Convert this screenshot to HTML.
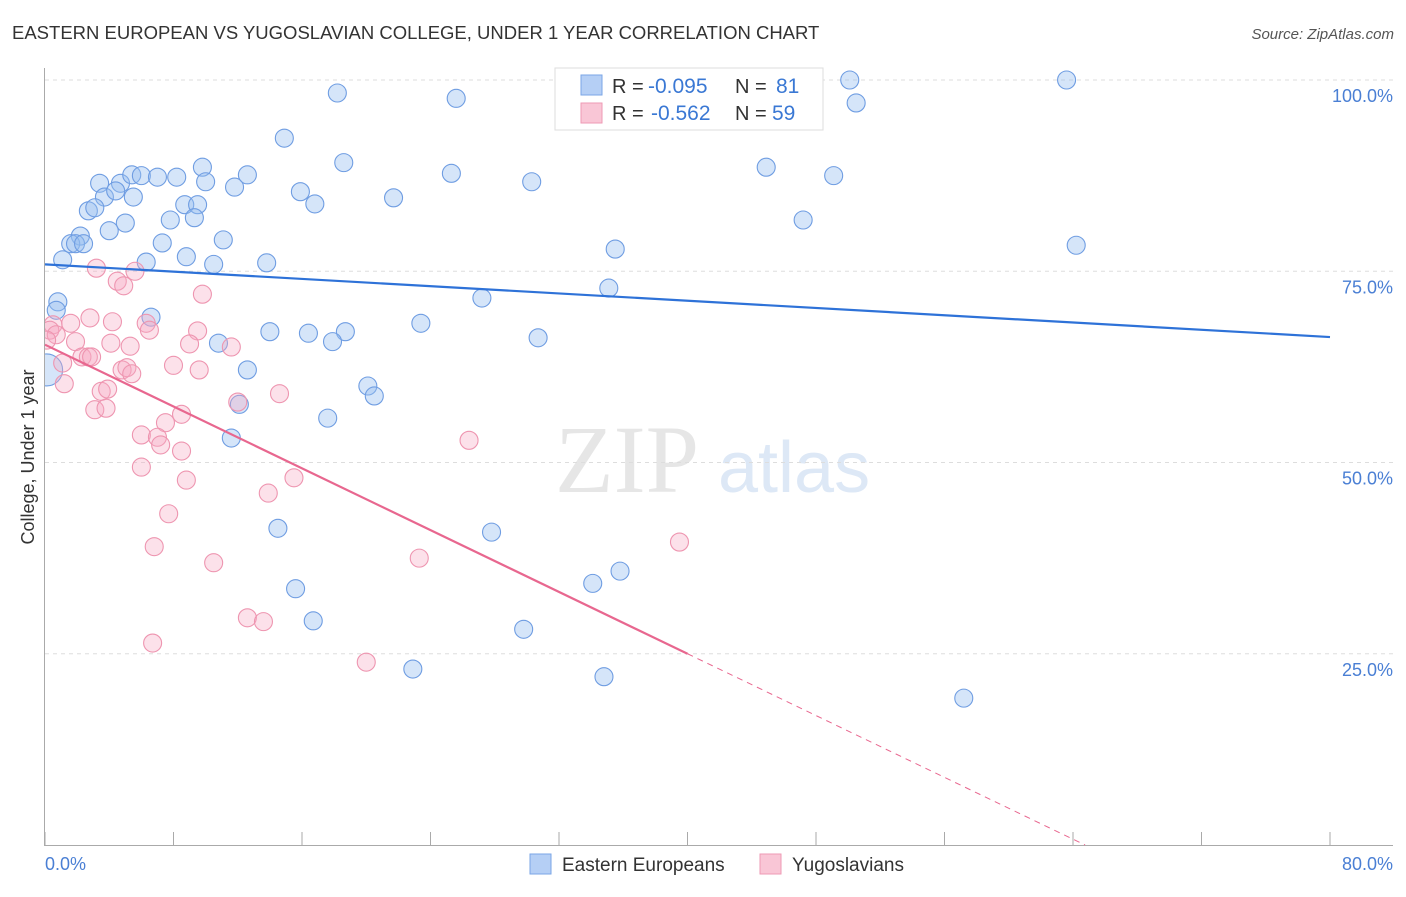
<!DOCTYPE html>
<html><head><meta charset="utf-8"><style>
body{margin:0;background:#fff;font-family:"Liberation Sans",sans-serif}
</style></head><body>
<svg id="c" width="1406" height="892" xmlns="http://www.w3.org/2000/svg">
<defs><clipPath id="plot"><rect x="45" y="60" width="1360" height="786"/></clipPath></defs>
<text x="12" y="39" font-size="18.5" fill="#333">EASTERN EUROPEAN VS YUGOSLAVIAN COLLEGE, UNDER 1 YEAR CORRELATION CHART</text>
<text x="1394" y="39" font-size="15" fill="#555" font-style="italic" text-anchor="end">Source: ZipAtlas.com</text>
<text x="555" y="492" font-size="96" fill="#e6e6e6" font-family="Liberation Serif">ZIP</text>
<text x="718" y="492" font-size="72" fill="#dde8f6">atlas</text>
<g id="grid"></g>
<g id="pts" clip-path="url(#plot)"></g>
<g id="lines"></g>
<text transform="translate(34,457) rotate(-90)" font-size="18" fill="#333" text-anchor="middle">College, Under 1 year</text>
<text x="45" y="870" font-size="18" fill="#4a7fd4">0.0%</text>
<text x="1393" y="870" font-size="18" fill="#4a7fd4" text-anchor="end">80.0%</text>
<g>
<rect x="555" y="68" width="268" height="62" fill="#fff" stroke="#ddd"/>
<rect x="581" y="75" width="21" height="20" fill="#b5cff5" stroke="#7aa5e6"/>
<rect x="581" y="103" width="21" height="20" fill="#f9c6d6" stroke="#ee9ab4"/>
<text x="612" y="93" font-size="20" fill="#333">R =</text>
<text x="648" y="93" font-size="21" fill="#3a78d4">-0.095</text>
<text x="735" y="93" font-size="20" fill="#333">N =</text>
<text x="776" y="93" font-size="21" fill="#3a78d4">81</text>
<text x="612" y="120" font-size="20" fill="#333">R =</text>
<text x="651" y="120" font-size="21" fill="#3a78d4">-0.562</text>
<text x="735" y="120" font-size="20" fill="#333">N =</text>
<text x="772" y="120" font-size="21" fill="#3a78d4">59</text>
</g>
<g>
<rect x="530" y="854" width="21" height="20" fill="#b5cff5" stroke="#7aa5e6"/>
<text x="562" y="871" font-size="19" fill="#333">Eastern Europeans</text>
<rect x="760" y="854" width="21" height="20" fill="#f9c6d6" stroke="#ee9ab4"/>
<text x="792" y="871" font-size="19" fill="#333">Yugoslavians</text>
</g>
</svg>
<script>
const blueX=[18.2,25.6,39.4,50.1,50.5,63.6,14.9,18.6,25.3,30.3,44.9,49.1,9.8,3.4,4.7,5.4,6.0,7.0,8.2,10.0,11.8,12.6,15.9,16.8,21.7,3.7,4.4,5.5,2.7,3.1,8.7,9.5,7.8,9.3,5.0,4.0,2.2,47.2,11.1,7.3,1.6,1.9,2.4,35.5,64.2,1.1,6.3,8.8,10.5,13.8,35.1,27.2,0.8,0.7,6.6,23.4,14.0,16.4,18.7,30.7,10.8,17.9,12.6,20.1,20.5,12.1,17.6,11.6,14.5,27.8,35.8,34.1,15.6,16.7,29.8,22.9,34.8,57.2,0.1];
const blueY=[98.3,97.6,100,100,97.0,100,92.4,89.2,87.8,86.7,88.6,87.5,88.6,86.5,86.5,87.6,87.5,87.3,87.3,86.7,86.0,87.6,85.4,83.8,84.6,84.7,85.5,84.7,82.9,83.3,83.7,83.7,81.7,82.0,81.3,80.3,79.6,81.7,79.1,78.7,78.6,78.6,78.6,77.9,78.4,76.5,76.2,76.9,75.9,76.1,72.8,71.5,71.0,69.9,69.0,68.2,67.1,66.9,67.1,66.3,65.6,65.8,62.1,60.0,58.7,57.6,55.8,53.2,41.4,40.9,35.8,34.2,33.5,29.3,28.2,23.0,22.0,19.2,62.1];
const pinkX=[3.2,5.6,4.5,4.9,9.8,0.5,1.6,2.8,4.2,6.3,6.5,9.5,0.3,0.7,1.9,4.1,5.3,9.0,11.6,1.1,2.3,2.7,2.9,8.0,9.6,4.8,5.1,5.4,1.2,3.5,3.9,12.0,14.6,3.1,3.8,8.5,7.5,6.0,7.0,7.2,8.5,26.4,6.0,8.8,15.5,13.9,7.7,6.8,10.5,23.3,39.5,12.6,13.6,6.7,20.0,0.1];
const pinkY=[75.4,75.0,73.7,73.1,72.0,68.0,68.2,68.9,68.4,68.2,67.3,67.2,67.3,66.7,65.8,65.6,65.2,65.5,65.1,63.0,63.8,63.8,63.8,62.7,62.1,62.1,62.4,61.6,60.3,59.3,59.6,57.9,59.0,56.9,57.1,56.3,55.2,53.6,53.3,52.3,51.5,52.9,49.4,47.7,48.0,46.0,43.3,39.0,36.9,37.5,39.6,29.7,29.2,26.4,23.9,66.0];
const yTicks=[25,50,75,100];
const yTickLabels=["25.0%","50.0%","75.0%","100.0%"];
const xTicks=[0,8,16,24,32,40,48,56,64,72,80];
const blueLine=[75.9,66.4];
const pinkInt=65.4, pinkSlope=-1.01, pinkSolidEnd=40;

const X=v=>45+v*16.0625, Y=v=>845-v*7.65;
const NS="http://www.w3.org/2000/svg";
function mk(t,a,p){const e=document.createElementNS(NS,t);for(const k in a)e.setAttribute(k,a[k]);p.appendChild(e);return e;}
const grid=document.getElementById('grid'),pts=document.getElementById('pts'),lines=document.getElementById('lines');
yTicks.forEach((t,i)=>{
 const l=mk('line',{x1:45,x2:1393,y1:Y(t),y2:Y(t),stroke:'#ddd','stroke-dasharray':'4,4'},grid);
 
 
 const tx=mk('text',{x:1393,y:Y(t)+22,'font-size':18,fill:'#4a7fd4','text-anchor':'end'},grid);
 tx.textContent=yTickLabels[i];
 
 
});
const ax=mk('line',{x1:44.5,x2:44.5,y1:68,y2:845,stroke:'#aaa'},grid);


const bx=mk('line',{x1:44,x2:1393,y1:845.5,y2:845.5,stroke:'#aaa'},grid);


xTicks.forEach(t=>{const l=mk('line',{x1:X(t),x2:X(t),y1:832,y2:845,stroke:'#aaa'},grid);
 
 });
blueX.forEach((x,i)=>{const c=mk('circle',{cx:X(x),cy:Y(blueY[i]),r:(i==blueX.length-1)?16:9,fill:'rgba(150,190,240,0.4)',stroke:'#6f9de2','stroke-width':1.1},pts);
 
 });
pinkX.forEach((x,i)=>{const c=mk('circle',{cx:X(x),cy:Y(pinkY[i]),r:9,fill:'rgba(246,170,195,0.35)',stroke:'#ee95b0','stroke-width':1.1},pts);
 
 });
const bl=mk('line',{x1:X(0),y1:Y(blueLine[0]),x2:X(80),y2:Y(blueLine[1]),stroke:'#2e72d8','stroke-width':2.2},lines);


const pl=mk('line',{x1:X(0),y1:Y(pinkInt),x2:X(pinkSolidEnd),y2:Y(pinkInt+pinkSlope*pinkSolidEnd),stroke:'#e8678f','stroke-width':2.2},lines);


const xEnd=-pinkInt/pinkSlope;
const pd=mk('line',{x1:X(pinkSolidEnd),y1:Y(pinkInt+pinkSlope*pinkSolidEnd),x2:X(xEnd),y2:Y(0),stroke:'#e8678f','stroke-width':1,'stroke-dasharray':'6,5'},lines);


</script>
</body></html>
